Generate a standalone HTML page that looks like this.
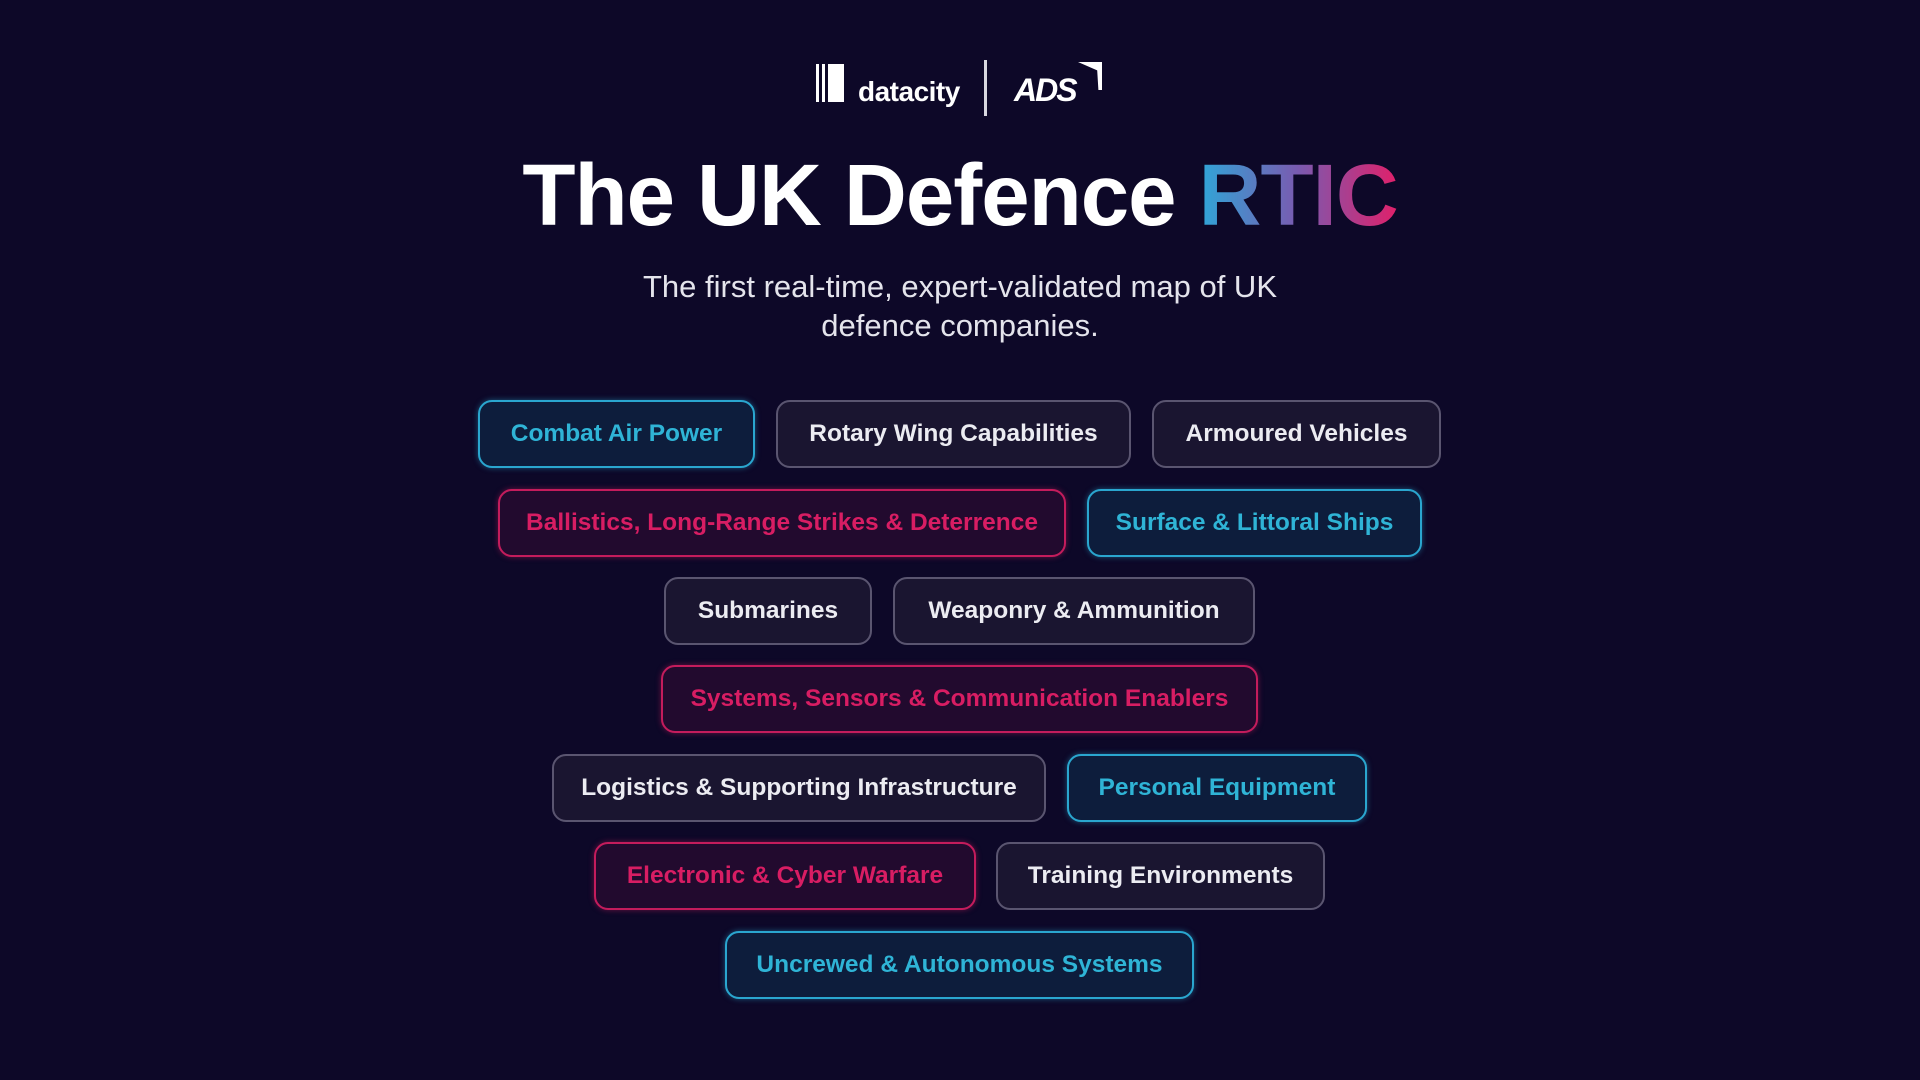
<!DOCTYPE html>
<html><head><meta charset="utf-8"><style>
*{margin:0;padding:0;box-sizing:border-box}
body{width:1920px;height:1080px;background:#0d0828;font-family:"Liberation Sans",sans-serif;position:relative;overflow:hidden}
.p{position:absolute;height:68px;border-radius:14px;border:2px solid #5a5570;background:#1a1530;color:#ececf2;font-weight:bold;font-size:24.5px;display:flex;align-items:center;justify-content:center;white-space:nowrap}
.b{border-color:#2aa6cf;background:#0d1d3c;color:#2fb4d6;box-shadow:0 0 6px rgba(42,166,207,.5)}
.r{border-color:#c41c5c;background:#220a2e;color:#d81d63;box-shadow:0 0 6px rgba(196,28,92,.5)}
.t{position:absolute;left:0;width:1920px;text-align:center;color:#fff}
</style></head><body>
<div style="position:absolute;left:816px;top:64px;width:28px;height:38px;background:linear-gradient(90deg,#fff 0 3px,transparent 3px 6px,#fff 6px 9px,transparent 9px 12px,#fff 12px)"></div>
<div style="position:absolute;left:858px;top:76px;color:#fff;font-weight:bold;font-size:28px;letter-spacing:-0.5px">datacity</div>
<div style="position:absolute;left:984px;top:60px;width:3px;height:56px;background:#d8d8e0"></div>
<div style="position:absolute;left:1014px;top:72px;color:#fff;font-weight:bold;font-size:32px;letter-spacing:-2px;font-style:italic">ADS</div>
<div style="position:absolute;left:1078px;top:62px;width:24px;height:28px;background:#fff;clip-path:polygon(0 0,100% 0,100% 100%,85% 100%,80% 30%)"></div>
<div class="t" style="top:146px;font-size:87px;font-weight:bold;letter-spacing:-1px;line-height:100px">The UK Defence <span style="background:linear-gradient(90deg,#2fa6d8,#7a5ab0,#e0206a);-webkit-background-clip:text;background-clip:text;color:transparent">RTIC</span></div>
<div class="t" style="top:267px;font-size:31px;line-height:39px;color:#e4e4ec">The first real-time, expert-validated map of UK<br>defence companies.</div>
<div class="p b" style="left:478px;top:400px;width:277px">Combat Air Power</div>
<div class="p" style="left:776px;top:400px;width:355px">Rotary Wing Capabilities</div>
<div class="p" style="left:1152px;top:400px;width:289px">Armoured Vehicles</div>
<div class="p r" style="left:498px;top:489px;width:568px">Ballistics, Long-Range Strikes &amp; Deterrence</div>
<div class="p b" style="left:1087px;top:489px;width:335px">Surface &amp; Littoral Ships</div>
<div class="p" style="left:664px;top:577px;width:208px">Submarines</div>
<div class="p" style="left:893px;top:577px;width:362px">Weaponry &amp; Ammunition</div>
<div class="p r" style="left:661px;top:665px;width:597px">Systems, Sensors &amp; Communication Enablers</div>
<div class="p" style="left:552px;top:754px;width:494px">Logistics &amp; Supporting Infrastructure</div>
<div class="p b" style="left:1067px;top:754px;width:300px">Personal Equipment</div>
<div class="p r" style="left:594px;top:842px;width:382px">Electronic &amp; Cyber Warfare</div>
<div class="p" style="left:996px;top:842px;width:329px">Training Environments</div>
<div class="p b" style="left:725px;top:931px;width:469px">Uncrewed &amp; Autonomous Systems</div>
</body></html>
